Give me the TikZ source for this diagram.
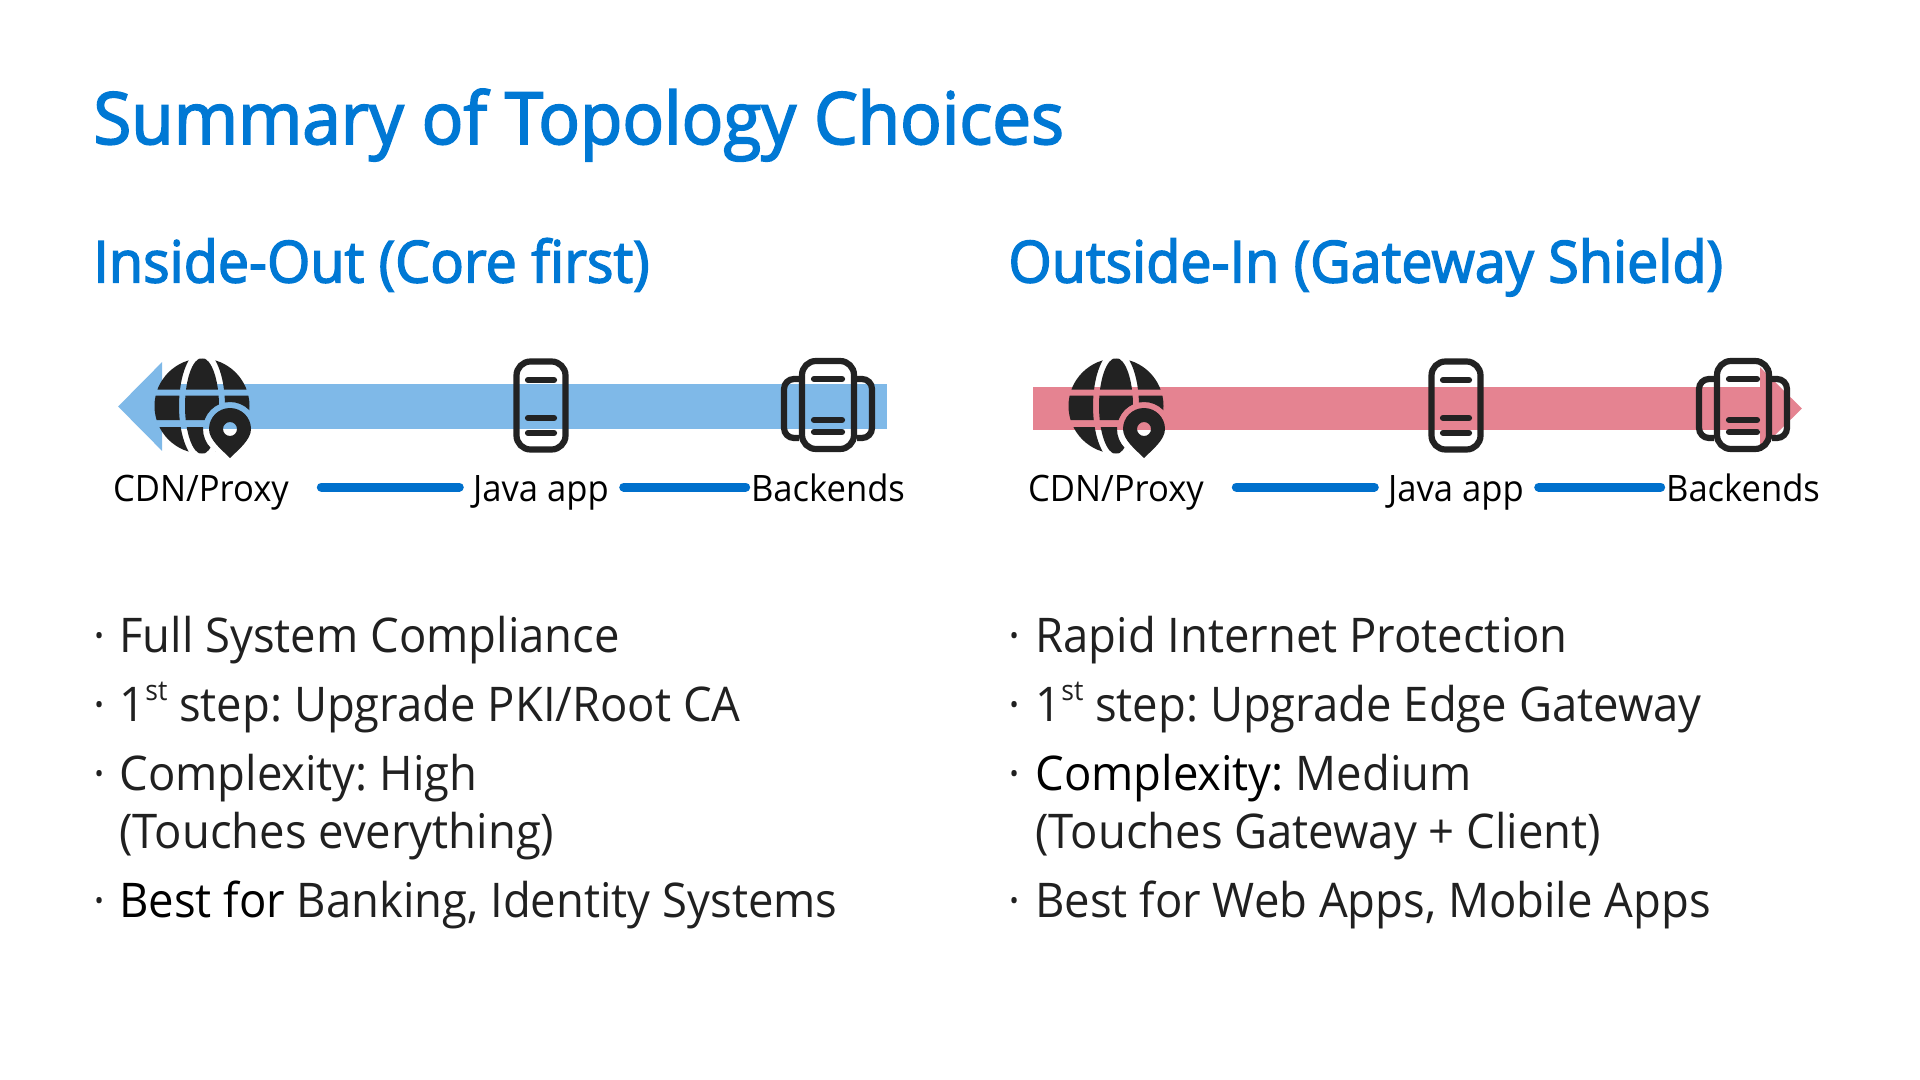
\documentclass[tikz,border=0pt]{standalone}
\usepackage{fontspec}
\setmainfont{Open Sans}[FakeStretch=0.95]
\newfontfamily\headfont{Open Sans}[FakeBold=2.5,FakeStretch=0.96]
\usetikzlibrary{arrows.meta,positioning}
\definecolor{headblue}{RGB}{0,120,212}
\definecolor{linkblue}{RGB}{0,112,204}
\definecolor{flowblue}{RGB}{127,185,232}
\definecolor{flowred}{RGB}{229,131,145}
\definecolor{icongray}{RGB}{34,34,34}
\definecolor{textgray}{RGB}{32,32,32}

% small raised letters
\newcommand{\ordsup}[1]{\raisebox{0.43em}{\fontsize{14}{15}\selectfont #1}}
% globe with a map pin
\newcommand{\globeicon}[1]{%
  \begin{scope}[shift={#1}]
    \begin{scope}[even odd rule]
      \clip (0,0) circle[radius=47.5];
      \clip (-60,-60) rectangle (60,60) (28,23) circle[radius=27];
      \clip (-60,-60) rectangle (60,60) (-60,-16.5) rectangle (60,-10.5);
      \clip (-60,-60) rectangle (60,60) (-60,14) rectangle (60,21);
      \fill[icongray] (-60,-60) rectangle (60,60)
        (0,0) ellipse[x radius=23, y radius=56] (0,0) ellipse[x radius=17, y radius=48];
    \end{scope}
    \fill[icongray, even odd rule] (28,52) .. controls (20,44) and (7,34) .. (7,23)
      arc[start angle=180, end angle=360, radius=21] .. controls (49,34) and (36,44) .. (28,52)
      (28,23) circle[radius=7];
  \end{scope}}
% single server
\newcommand{\appicon}[1]{%
  \begin{scope}[shift={#1}]
    \draw[iconline, rounded corners=7pt] (-24.5,-44.5) rectangle (24.5,43.5);
    \draw[iconbar] (-13,-26) -- (13,-26);
    \draw[iconbar] (-13,12) -- (13,12);
    \draw[iconbar] (-13,27) -- (13,27);
  \end{scope}}
% server with two behind it
\newcommand{\backendicon}[1]{%
  \begin{scope}[shift={#1}]
    \draw[iconline, rounded corners=5pt] (-29,-27) -- (-44,-27) -- (-44,32) -- (-29,32);
    \draw[iconline, rounded corners=5pt] (29,-27) -- (44,-27) -- (44,32) -- (29,32);
    \draw[iconline, rounded corners=7pt] (-26,-45) rectangle (26,43);
    \draw[iconbar] (-14,-27) -- (14,-27);
    \draw[iconbar] (-14,14) -- (14,14);
    \draw[iconbar] (-14,26) -- (14,26);
  \end{scope}}

\begin{document}
\frenchspacing
\begin{tikzpicture}[x=0.5pt, y=-0.5pt,
  iconline/.style={draw=icongray, line width=3.1pt},
  iconbar/.style={draw=icongray, line width=3.1pt, line cap=round},
  title/.style={anchor=base west, inner sep=0pt, text=headblue, font=\fontsize{36}{42}\headfont},
  subtitle/.style={anchor=base west, inner sep=0pt, text=headblue, font=\fontsize{29}{34}\headfont},
  lbl/.style={anchor=base, inner xsep=0pt, inner ysep=0pt, text height=18.5pt, text depth=4pt, text=black, font=\fontsize{18.2}{22}\selectfont},
  item/.style={anchor=base west, inner sep=0pt, text=textgray, font=\fontsize{23.9}{28}\selectfont},
  link/.style={draw=linkblue, line width=4.5pt, line cap=round},
  linka/.style={link, shorten <=16pt, shorten >=6.75pt},
  linkb/.style={link, shorten <=7.25pt, shorten >=2.5pt}
]
\useasboundingbox (0,0) rectangle (1920,1080);
% Title
\node[title] (head) at (93,144) {Summary of Topology Choices};
\node[subtitle] (subA) at (93,282.5) {Inside-Out (Core first)};
\node[subtitle] (subB) at (1008,282.5) {Outside-In (Gateway Shield)};
% Arrows
\coordinate (startA) at (887,406.5);
\coordinate (tipA) at (118,406.5);
\draw[flowblue, line width=22.5pt, -{Triangle[width=43pt,length=22pt]}] (startA) -- (tipA);
\coordinate (startB) at (1033,408.5);
\coordinate (tipB) at (1802,408.5);
\draw[flowred, line width=21.5pt, -{Triangle[width=40pt,length=21pt]}] (startB) -- (tipB);
% Icons
\globeicon{(202,406)}
\appicon{(541,406)}
\backendicon{(828,406)}
\globeicon{(1116,406)}
\appicon{(1456,406)}
\backendicon{(1743,406)}
% Labels
\node[lbl] (cdnA) at (201,501.5) {CDN/Proxy};
\node[lbl] (javaA) at (541,501.5) {Java app};
\node[lbl] (backA) at (828,501.5) {Backends};
\node[lbl] (cdnB) at (1116,501.5) {CDN/Proxy};
\node[lbl] (javaB) at (1456,501.5) {Java app};
\node[lbl] (backB) at (1743,501.5) {Backends};
\draw[linka] (cdnA.east) -- (javaA.west);
\draw[linkb] (javaA.east) -- (backA.west);
\draw[linka] (cdnB.east) -- (javaB.west);
\draw[linkb] (javaB.east) -- (backB.west);
% Left list
\node[item] (dotA1) at (93,652.5) {·};
\node[item] (itemA1) at (119,652.5) {Full System Compliance};
\node[item] (dotA2) at (93,721.5) {·};
\node[item] (itemA2) at (119,721.5) {1\ordsup{st} step: Upgrade PKI/Root CA};
\node[item] (dotA3) at (93,790.5) {·};
\node[item] (itemA3) at (119,790.5) {Complexity: High};
\node[item] (itemA3b) at (119,848.5) {(Touches everything)};
\node[item] (dotA4) at (93,917.5) {·};
\node[item] (itemA4) at (119,917.5) {{\color{black}Best for} Banking, Identity Systems};
% Right list
\node[item] (dotB1) at (1008,652.5) {·};
\node[item] (itemB1) at (1035,652.5) {Rapid Internet Protection};
\node[item] (dotB2) at (1008,721.5) {·};
\node[item] (itemB2) at (1035,721.5) {1\ordsup{st} step: Upgrade Edge Gateway};
\node[item] (dotB3) at (1008,790.5) {·};
\node[item] (itemB3) at (1035,790.5) {{\color{black}Complexity:} Medium};
\node[item] (itemB3b) at (1035,848.5) {(Touches Gateway + Client)};
\node[item] (dotB4) at (1008,917.5) {·};
\node[item] (itemB4) at (1035,917.5) {Best for Web Apps, Mobile Apps};
\end{tikzpicture}
\end{document}
